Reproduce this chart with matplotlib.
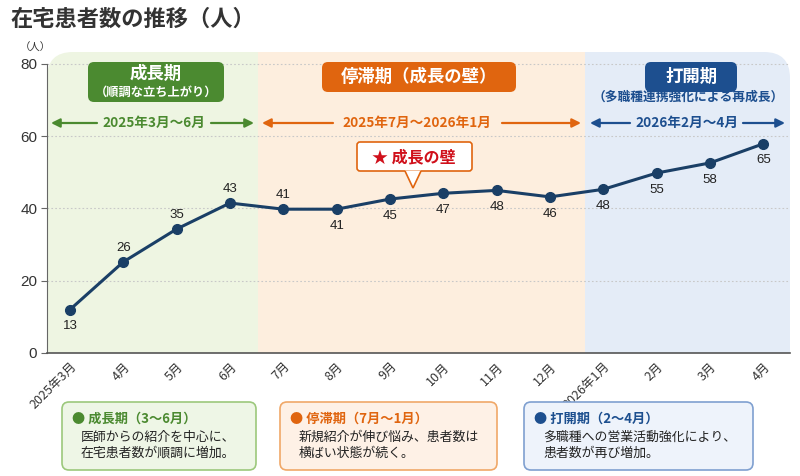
import matplotlib.pyplot as plt
from matplotlib.patches import FancyBboxPatch, FancyArrowPatch, Polygon

plt.rcParams["font.family"] = ["Noto Sans CJK JP", "DejaVu Sans"]

months = ["2025年3月", "4月", "5月", "6月", "7月", "8月", "9月", "10月",
          "11月", "12月", "2026年1月", "2月", "3月", "4月"]
# plotted heights
plot_vals = [12, 25.2, 34.3, 41.5, 39.8, 39.8, 42.6, 44.2, 45, 43.2, 45.3, 49.8, 52.6, 57.9]
# printed data labels
label_vals = [13, 26, 35, 43, 41, 41, 45, 47, 48, 46, 48, 55, 58, 65]
label_side = ["below", "above", "above", "above", "above", "below", "below",
              "below", "below", "below", "below", "below", "below", "below"]

phase_bounds = [3.53, 9.66]
yticks = [0, 20, 40, 60, 80]

GREEN, ORANGE, BLUE = "#4b8a30", "#e0650f", "#1d4f8f"
LINE = "#1a3f66"
W, H = 800, 476


def fx(px):
    return px / W


def fy(py):
    return 1 - py / H


def fbox(x0, y0, x1, y1, fc, ec="none", r=6, lw=1.0, z=2):
    p = FancyBboxPatch((fx(x0), fy(y1)), (x1 - x0) / W, (y1 - y0) / H,
                       boxstyle=f"round,pad=0,rounding_size={r / W}",
                       mutation_aspect=W / H, transform=fig.transFigure,
                       fc=fc, ec=ec, lw=lw, zorder=z)
    fig.add_artist(p)


def ftext(px, py, s, **kw):
    fig.text(fx(px), fy(py), s, va="center", **kw)


def farrow(x1, x2, py, c):
    a = FancyArrowPatch((fx(x1), fy(py)), (fx(x2), fy(py)), transform=fig.transFigure,
                        arrowstyle="-|>", mutation_scale=13, color=c, lw=1.6,
                        shrinkA=0, shrinkB=0)
    fig.add_artist(a)


fig = plt.figure(figsize=(8, 4.76), dpi=100)
ax = fig.add_axes([fx(47), 123 / H, (790 - 47) / W, (353 - 52) / H])
xmin, xmax = -0.43, 13.5
ax.set_xlim(xmin, xmax)
ax.set_ylim(0, 83.3)

# phase backgrounds
def axfrac(x):
    return (x - xmin) / (xmax - xmin)

bg = [(0, axfrac(phase_bounds[0]) + 0.06, "#eef5e2"),
      (axfrac(phase_bounds[1]) - 0.06, 1, "#e4ecf7")]
for a0, a1, c in bg:
    ax.add_patch(FancyBboxPatch((a0, -0.2), a1 - a0, 1.2,
                                boxstyle="round,pad=0,rounding_size=0.035",
                                mutation_aspect=(790 - 47) / 301,
                                transform=ax.transAxes, fc=c, ec="none", zorder=0.3))
ax.axvspan(phase_bounds[0], phase_bounds[1], color="#fdeede", zorder=0.4, lw=0)

x = list(range(len(months)))
ax.plot(x, plot_vals, color=LINE, lw=2.2, marker="o", ms=7, zorder=3)
for xi, v, lab, side in zip(x, plot_vals, label_vals, label_side):
    dy = 10 if side == "above" else -12
    ax.annotate(str(lab), (xi, v), xytext=(0, dy), textcoords="offset points",
                ha="center", va="center", fontsize=9.5, color="#222222",
                family=["Liberation Sans", "DejaVu Sans"])

ax.set_yticks(yticks)
ax.set_yticklabels([str(t) for t in yticks], fontsize=11, color="#333333",
                   family=["Liberation Sans", "DejaVu Sans"])
ax.set_xticks(x)
ax.set_xticklabels(months, rotation=45, ha="right", rotation_mode="anchor",
                   fontsize=9, color="#333333")
ax.tick_params(axis="x", length=0, pad=5)
ax.tick_params(axis="y", length=4, color="#666666", pad=3)
for yv in yticks[1:]:
    ax.axhline(yv, color="#c8c8c8", lw=0.8, ls=(0, (1.5, 2)), zorder=1)
for s in ["top", "right"]:
    ax.spines[s].set_visible(False)
ax.spines["left"].set_bounds(0, 80)
ax.spines["left"].set_color("#666666")
ax.spines["bottom"].set_color("#555555")
ax.spines["bottom"].set_linewidth(1.2)

# titles
ftext(10, 19, "在宅患者数の推移（人）", fontsize=16, fontweight="bold", color="#333333")
ftext(20, 48, "（人）", fontsize=7.5, color="#333333")

# phase header boxes
fbox(88, 62, 224, 102, GREEN, r=6)
ftext(156, 74, "成長期", fontsize=12.5, fontweight="bold", color="white", ha="center")
ftext(156, 92, "（順調な立ち上がり）", fontsize=8.8, fontweight="bold", color="white", ha="center")
fbox(322, 62, 516, 92, ORANGE, r=6)
ftext(419, 77, "停滞期（成長の壁）", fontsize=12.5, fontweight="bold", color="white", ha="center")
fbox(645, 62, 737, 92, BLUE, r=6)
ftext(691, 77, "打開期", fontsize=12.5, fontweight="bold", color="white", ha="center")
ftext(688, 97, "（多職種連携強化による再成長）", fontsize=9.2, fontweight="bold", color=BLUE, ha="center")

# period arrows
farrow(97, 51, 123, GREEN)
farrow(211, 254, 123, GREEN)
ftext(154, 123, "2025年3月～6月", fontsize=9.8, fontweight="bold", color=GREEN, ha="center")
farrow(333, 262, 123, ORANGE)
farrow(502, 581, 123, ORANGE)
ftext(417, 123, "2025年7月～2026年1月", fontsize=9.8, fontweight="bold", color=ORANGE, ha="center")
farrow(630, 590, 123, BLUE)
farrow(743, 785, 123, BLUE)
ftext(687, 123, "2026年2月～4月", fontsize=9.8, fontweight="bold", color=BLUE, ha="center")

# callout
fbox(357, 142, 472, 171, "white", ec=ORANGE, r=3, lw=1.2, z=4)
fig.add_artist(Polygon([(fx(405), fy(170.5)), (fx(413), fy(188)), (fx(421), fy(170.5))],
                       closed=True, transform=fig.transFigure, fc="white", ec="none", zorder=5))
fig.add_artist(Polygon([(fx(405), fy(171)), (fx(413), fy(188)), (fx(421), fy(171))],
                       closed=False, transform=fig.transFigure, fill=False, ec=ORANGE,
                       lw=1.2, zorder=5))
ftext(414, 157, "★ 成長の壁", fontsize=11.5, fontweight="bold", color="#d0101b", ha="center", zorder=6)

# bottom notes
notes = [
    (62, 256, "#eef6e6", "#9cc87c", GREEN, "● 成長期（3～6月）",
     ["医師からの紹介を中心に、", "在宅患者数が順調に増加。"]),
    (280, 497, "#fef1e6", "#f0a868", ORANGE, "● 停滞期（7月～1月）",
     ["新規紹介が伸び悩み、患者数は", "横ばい状態が続く。"]),
    (524, 753, "#eef3fb", "#7fa0d0", BLUE, "● 打開期（2～4月）",
     ["多職種への営業活動強化により、", "患者数が再び増加。"]),
]
for x0, x1, fc, ec, tc, title, body in notes:
    fbox(x0, 402, x1, 470, fc, ec=ec, r=7, lw=1.2)
    ftext(x0 + 10, 419, title, fontsize=9.5, fontweight="bold", color=tc)
    for i, line in enumerate(body):
        ftext(x0 + 19, 437 + 16.5 * i, line, fontsize=9.3, color="#222222")

fig.savefig("out.png", dpi=100)
